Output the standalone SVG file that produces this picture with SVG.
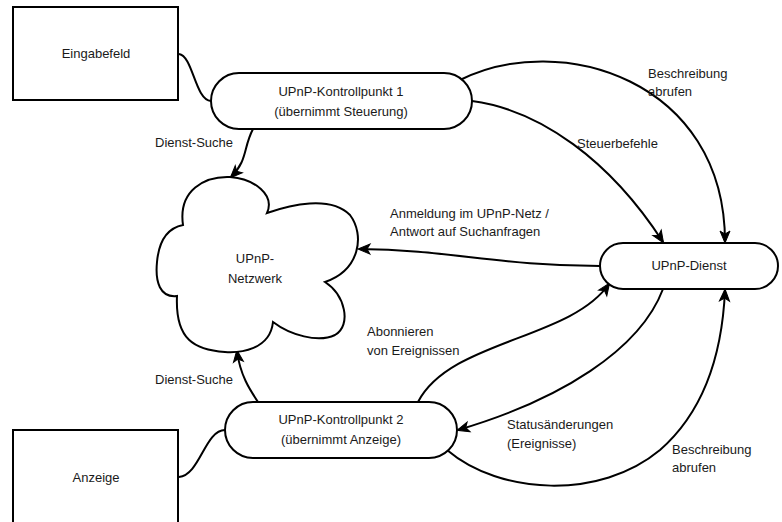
<svg xmlns="http://www.w3.org/2000/svg" width="782" height="522" viewBox="0 0 782 522">
  <defs>
    <style>
      .shape { fill: #ffffff; stroke: #000000; stroke-width: 2; }
      .edge { fill: none; stroke: #000000; stroke-width: 2; }
      .arrow { marker-end: url(#head); }
      text { font-family: "Liberation Sans", Arial, Helvetica, sans-serif; font-size: 13px; fill: #1a1a1a; }
      .c { text-anchor: middle; }
    </style>
    <marker id="head" markerWidth="14" markerHeight="12" refX="11" refY="5" orient="auto" markerUnits="userSpaceOnUse" viewBox="0 0 14 12" overflow="visible">
      <path d="M0,0 L12,5 L0,10 L3,5 Z" fill="#000000" stroke="#000000" stroke-width="1"/>
    </marker>
  </defs>

  <rect width="782" height="522" fill="#ffffff"/>

  <!-- connectors -->
  <g id="connectors">
    <path class="edge" d="M179,54 C193,56 195,100 211,101"/>
    <path class="edge" d="M179,477 C200,475 205,430 225,430"/>
    <path class="edge arrow" d="M253,129 C243,148 248,160 231,177"/>
    <path class="edge arrow" d="M472,101 C540,110 610,160 663,242"/>
    <path class="edge arrow" d="M460,80 C560,30 725,80 725,242"/>
    <path class="edge arrow" d="M600,266 C500,266 450,250 359,249"/>
    <path class="edge arrow" d="M418,402 C450,340 570,340 609,284"/>
    <path class="edge arrow" d="M663,289 C640,350 560,400 458,430"/>
    <path class="edge arrow" d="M447,450 C500,495 600,500 660,450 C700,415 722,360 725,290"/>
    <path class="edge arrow" d="M258,402 C250,390 240,375 237,351"/>
  </g>

  <!-- connector labels -->
  <g id="labels">
    <text x="155" y="147">Dienst-Suche</text>
    <text x="577" y="148">Steuerbefehle</text>
    <text x="648" y="78">Beschreibung</text>
    <text x="648" y="96">abrufen</text>
    <text x="390" y="218">Anmeldung im UPnP-Netz /</text>
    <text x="390" y="236">Antwort auf Suchanfragen</text>
    <text x="367" y="336">Abonnieren</text>
    <text x="367" y="355">von Ereignissen</text>
    <text x="507" y="429">Statusänderungen</text>
    <text x="507" y="448">(Ereignisse)</text>
    <text x="672" y="454">Beschreibung</text>
    <text x="672" y="472">abrufen</text>
    <text x="155" y="384">Dienst-Suche</text>
  </g>

  <g id="eingabefeld">
    <rect class="shape" x="13" y="7" width="165" height="93"/>
    <text class="c" x="96" y="58">Eingabefeld</text>
  </g>

  <g id="kontrollpunkt1">
    <rect class="shape" x="211" y="73" width="261" height="56" rx="28" ry="28"/>
    <text class="c" x="341" y="96">UPnP-Kontrollpunkt 1</text>
    <text class="c" x="341" y="116">(übernimmt Steuerung)</text>
  </g>

  <g id="netzwerk">
    <path class="shape" d="M183,225 C178,190 205,176 230,177 C255,179 275,195 267,213 C290,205 330,195 350,215 C365,235 360,270 325,282 C345,295 352,325 335,335 C318,343 290,335 273,322 C270,350 240,353 225,352 C195,350 175,340 177,296 C160,298 155,282 157,262 C159,240 168,228 183,225 Z"/>
    <text class="c" x="255" y="263">UPnP-</text>
    <text class="c" x="255" y="283">Netzwerk</text>
  </g>

  <g id="dienst">
    <rect class="shape" x="600" y="243" width="178" height="46" rx="23" ry="23"/>
    <text class="c" x="689" y="270">UPnP-Dienst</text>
  </g>

  <g id="kontrollpunkt2">
    <rect class="shape" x="225" y="402" width="232" height="56" rx="28" ry="28"/>
    <text class="c" x="341" y="424">UPnP-Kontrollpunkt 2</text>
    <text class="c" x="341" y="444">(übernimmt Anzeige)</text>
  </g>

  <g id="anzeige">
    <rect class="shape" x="13" y="430" width="165" height="100"/>
    <text class="c" x="96" y="482">Anzeige</text>
  </g>
</svg>
